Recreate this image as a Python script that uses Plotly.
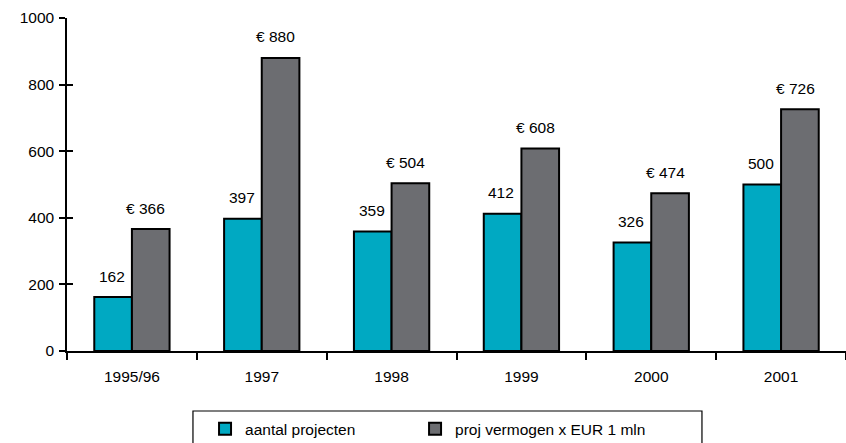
import plotly.graph_objects as go

categories = ["1995/96", "1997", "1998", "1999", "2000", "2001"]
aantal_projecten = [162, 397, 359, 412, 326, 500]
proj_vermogen = [366, 880, 504, 608, 474, 726]
y_ticks = [0, 200, 400, 600, 800, 1000]

TEAL = "#00A9C2"
GREY = "#6C6D71"
FONT = "Liberation Sans, Arial, Helvetica, sans-serif"
FS = 15.5

fig = go.Figure()
fig.add_trace(go.Bar(
    x=categories, y=aantal_projecten, name="aantal projecten", legend="legend",
    marker=dict(color=TEAL, line=dict(color="black", width=2)),
))
fig.add_trace(go.Bar(
    x=categories, y=proj_vermogen, name="proj vermogen x EUR 1 mln", legend="legend2",
    marker=dict(color=GREY, line=dict(color="black", width=2)),
))
# invisible helper trace for the inner half of the crossing y tick marks
fig.add_trace(go.Scatter(
    x=categories, y=proj_vermogen, yaxis="y2",
    mode="markers", marker=dict(opacity=0), showlegend=False, hoverinfo="skip",
))

annotations = []
for i, v in enumerate(aantal_projecten):
    annotations.append(dict(x=i, y=v, text=str(v), showarrow=False,
                            xshift=-20, yshift=21, yanchor="middle",
                            font=dict(family=FONT, size=FS, color="black")))
for i, v in enumerate(proj_vermogen):
    annotations.append(dict(x=i, y=v, text="€ " + str(v), showarrow=False,
                            xshift=14, yshift=21, yanchor="middle",
                            font=dict(family=FONT, size=FS, color="black")))

legend_common = dict(
    orientation="h", yanchor="top", xanchor="left",
    borderwidth=0, bgcolor="rgba(0,0,0,0)",
    font=dict(family=FONT, size=FS, color="black"),
)

fig.update_layout(
    width=846, height=443,
    margin=dict(l=67, r=0, t=18, b=92, autoexpand=False),
    paper_bgcolor="white", plot_bgcolor="white",
    barmode="group", bargap=0.42, bargroupgap=0,
    font=dict(family=FONT, size=FS, color="black"),
    annotations=annotations,
    shapes=[dict(type="rect", xref="paper", yref="paper",
                 x0=0.1617, x1=0.8151, y0=-0.1802, y1=-0.35,
                 line=dict(color="black", width=1.2), fillcolor="rgba(0,0,0,0)",
                 layer="above")],
    xaxis=dict(
        type="category", categoryorder="array", categoryarray=categories,
        range=[-0.5, len(categories) - 0.5], automargin=False,
        showline=True, linecolor="black", linewidth=1.5,
        ticks="outside", tickson="boundaries", ticklen=7, tickwidth=1.5, tickcolor="black",
        showgrid=False, zeroline=False, ticklabelstandoff=11,
    ),
    yaxis=dict(
        range=[0, 1000], tickvals=y_ticks, automargin=False,
        showline=True, linecolor="black", linewidth=1.5,
        ticks="outside", ticklen=6, tickwidth=1.5, tickcolor="black",
        showgrid=False, zeroline=False, ticklabelstandoff=2,
    ),
    yaxis2=dict(
        range=[0, 1000], tickvals=y_ticks, overlaying="y", side="left",
        automargin=False,
        ticks="inside", ticklen=6, tickwidth=1.5, tickcolor="black",
        showticklabels=False, showgrid=False, zeroline=False, showline=False,
    ),
    legend=dict(x=0.1772, y=-0.184, **legend_common),
    legend2=dict(x=0.4468, y=-0.184, **legend_common),
    showlegend=True,
)

fig.write_html("out.html", config={"displayModeBar": False},
               post_script="document.body.style.margin='0';")
